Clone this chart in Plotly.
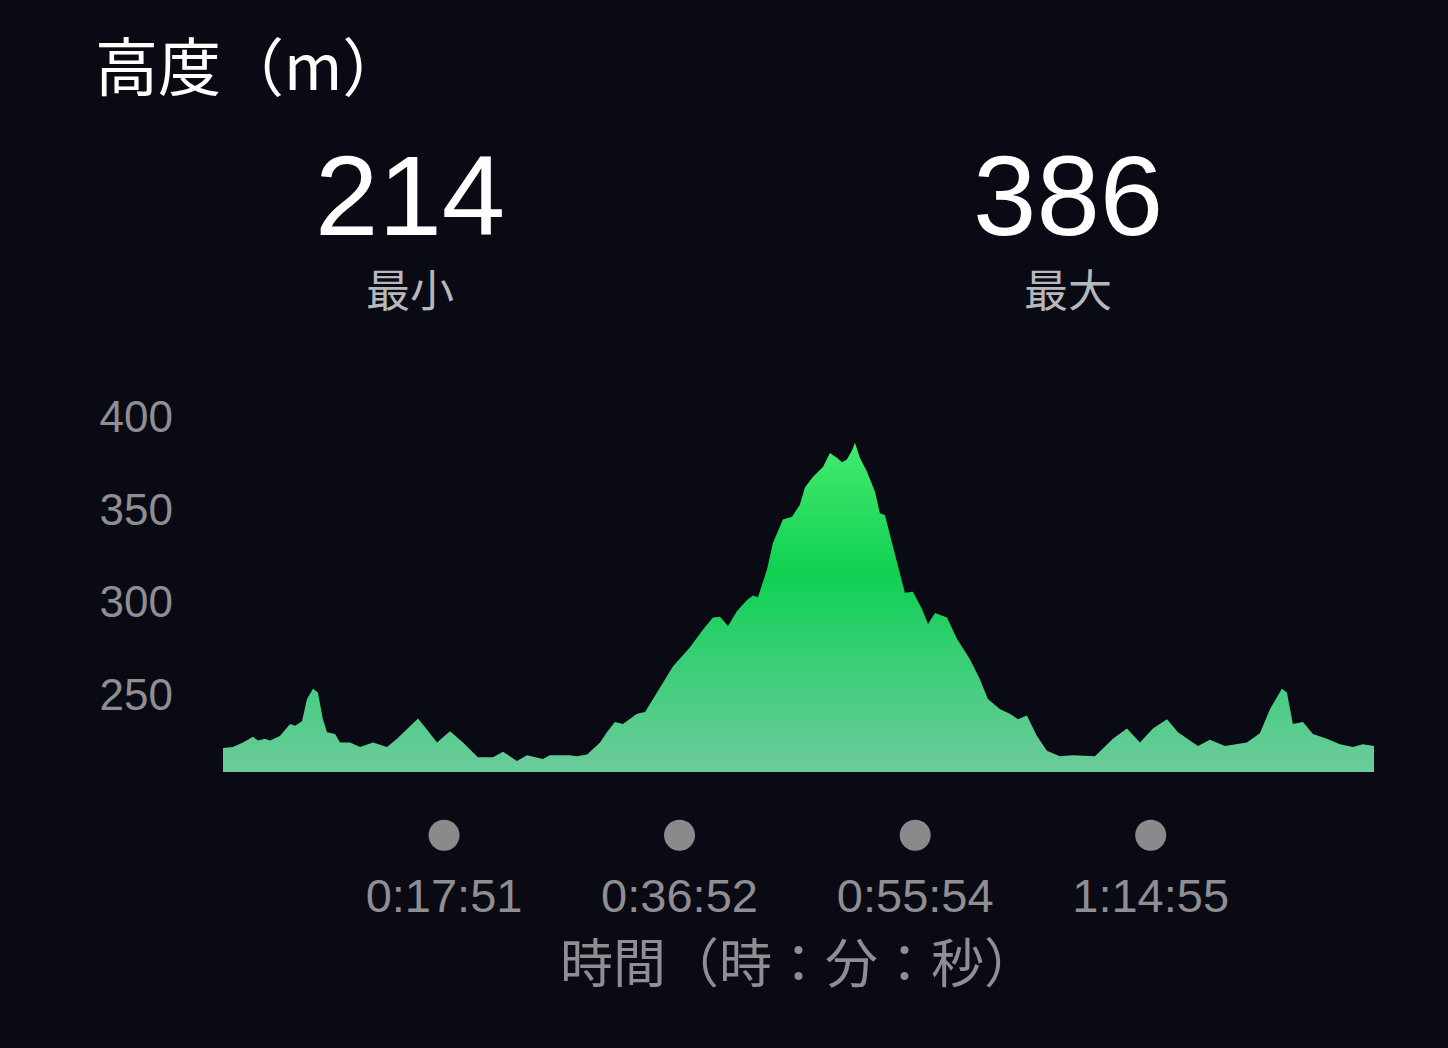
import plotly.graph_objects as go

# ── Data ─────────────────────────────────────────────────────
# elapsed time (s) and altitude (m)
time_s = [0, 48, 97, 145, 170, 203, 228, 276, 325, 349,
          383, 407, 436, 460, 484, 504, 543, 567, 615, 664,
          727, 795, 843, 906, 945, 988, 1037, 1100, 1163, 1235,
          1308, 1357, 1424, 1473, 1550, 1584, 1681, 1715, 1764, 1827,
          1860, 1899, 1938, 2006, 2045, 2103, 2180, 2263, 2326, 2374,
          2408, 2447, 2490, 2539, 2568, 2592, 2636, 2665, 2713, 2757,
          2795, 2820, 2858, 2907, 2941, 2975, 2999, 3023, 3048, 3062,
          3086, 3120, 3159, 3183, 3207, 3246, 3280, 3304, 3343, 3387,
          3416, 3450, 3508, 3556, 3619, 3668, 3706, 3765, 3813, 3852,
          3895, 3944, 3992, 4055, 4118, 4225, 4312, 4380, 4443, 4506,
          4574, 4627, 4724, 4782, 4855, 4961, 5024, 5073, 5131, 5155,
          5184, 5233, 5281, 5349, 5412, 5475, 5523, 5577]
altitude = [221, 221.5, 224, 227, 225, 226, 225, 227.5, 234, 233,
            235.5, 247.5, 253, 251, 236.5, 229.5, 228.5, 224, 224, 221.5,
            224, 221.5, 226, 233, 237, 231, 224, 230, 224, 216,
            216, 219, 214, 217, 215, 217, 217, 216.5, 217.5, 224,
            229.5, 235, 234, 239.5, 240.5, 251, 265, 275.5, 285, 291.5,
            292, 287, 295, 301, 303.5, 302.5, 317.5, 332, 344.5, 346,
            352.5, 362, 367.5, 373, 380.5, 378, 375.5, 377, 382, 386,
            378, 370.5, 359.5, 348, 347, 330, 316, 305, 305.5, 296,
            288, 294, 291.5, 280, 269, 258, 247.5, 242, 239.5, 236.5,
            238.5, 227.5, 219.5, 216.5, 217, 216.5, 226, 231.5, 224, 231.5,
            236.5, 229.5, 222, 225.5, 222, 224, 229, 242, 253, 251,
            234, 235, 228.5, 226, 223, 221.5, 223, 222]

x_tick_s = [1071, 2212, 3354, 4495]
x_tick_labels = ["0:17:51", "0:36:52", "0:55:54", "1:14:55"]
y_ticks = [250, 300, 350, 400]

BG = "#0a0a14"
GRAY = "#8e8e93"
LIGHT = "#b8b8bc"
FONT = "Liberation Sans, Noto Sans CJK JP, sans-serif"
CJK = "Noto Sans CJK JP, sans-serif"

fig = go.Figure()

# altitude area with vertical gradient
fig.add_trace(go.Scatter(
    x=time_s, y=altitude, mode="lines", fill="tozeroy",
    line=dict(width=0, color="#10d152"),
    fillgradient=dict(
        type="vertical", start=208, stop=386,
        colorscale=[[0, "#6ccb9b"], [0.3, "#3fce7c"], [0.6, "#0fd152"], [1, "#44ea6e"]],
    ),
    hoverinfo="skip", showlegend=False,
))

# marker dots under each time label
fig.add_trace(go.Scatter(
    x=x_tick_s, y=[0.5] * len(x_tick_s), yaxis="y2", mode="markers",
    marker=dict(size=31, color="#8a8a8c"),
    hoverinfo="skip", showlegend=False,
))

fig.add_annotation(text="高度（m）", x=93 / 1448, y=0.9408, xref="paper", yref="paper",
                   xanchor="left", yanchor="middle", showarrow=False,
                   font=dict(family=CJK, size=63, color="white"))

for val, label, xpx in [(min(altitude), "最小", 410), (max(altitude), "最大", 1068)]:
    fig.add_annotation(text=f"{val:.0f}", x=xpx / 1448, y=0.813, xref="paper", yref="paper",
                       xanchor="center", yanchor="middle", showarrow=False,
                       font=dict(family=FONT, size=114, color="white"))
    fig.add_annotation(text=label, x=xpx / 1448, y=0.7252, xref="paper", yref="paper",
                       xanchor="center", yanchor="middle", showarrow=False,
                       font=dict(family=CJK, size=44, color=LIGHT))

fig.update_layout(
    width=1448, height=1048, autosize=False,
    paper_bgcolor=BG, plot_bgcolor=BG,
    margin=dict(l=0, r=0, t=0, b=0),
    font=dict(family=FONT, color=GRAY),
    xaxis=dict(
        domain=[223 / 1448, 1374 / 1448], range=[0, 5577],
        tickvals=x_tick_s, ticktext=x_tick_labels,
        tickfont=dict(size=47, color=GRAY), ticklabelstandoff=92,
        showgrid=False, zeroline=False, showline=False, ticks="",
        title=dict(text="時間（時：分：秒）", font=dict(family=CJK, size=53, color=GRAY), standoff=14),
    ),
    yaxis=dict(
        domain=[276 / 1048, 668 / 1048], range=[208, 420],
        tickvals=y_ticks, tickfont=dict(size=44, color=GRAY), ticklabelstandoff=49,
        showgrid=False, zeroline=False, showline=False, ticks="",
    ),
    yaxis2=dict(
        domain=[0.183, 0.223], range=[0, 1], anchor="x",
        visible=False, showgrid=False, zeroline=False,
    ),
)

fig.write_html("out.html", config={"displayModeBar": False},
               post_script="document.body.style.margin='0';")
